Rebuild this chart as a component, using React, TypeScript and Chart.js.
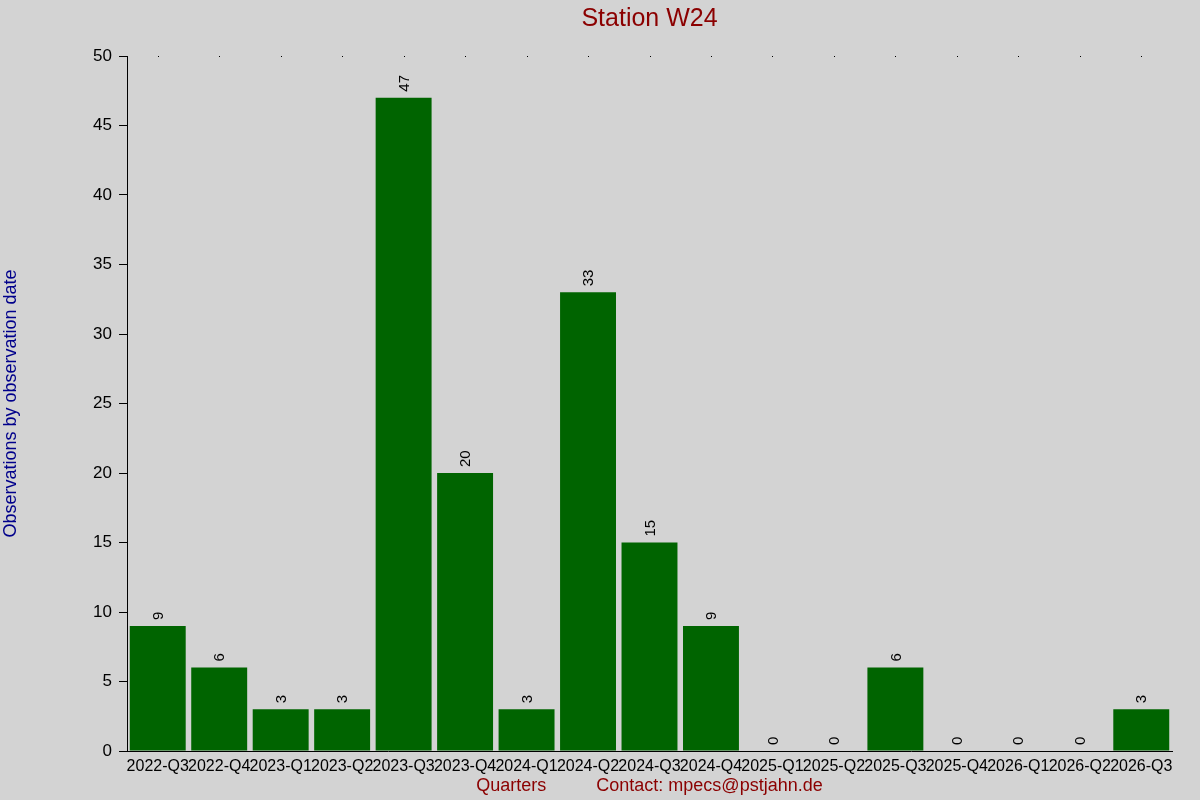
import React, { useEffect, useRef } from "react";
import { Chart, registerables } from "chart.js";

Chart.register(...registerables);

const categories = [
  "2022-Q3", "2022-Q4", "2023-Q1", "2023-Q2", "2023-Q3", "2023-Q4",
  "2024-Q1", "2024-Q2", "2024-Q3", "2024-Q4", "2025-Q1", "2025-Q2",
  "2025-Q3", "2025-Q4", "2026-Q1", "2026-Q2", "2026-Q3",
];
const observations = [9, 6, 3, 3, 47, 20, 3, 33, 15, 9, 0, 0, 6, 0, 0, 0, 3];
const titleText = "Station W24";
const yTitle = "Observations by observation date";
const xTitle = "Quarters          Contact: mpecs@pstjahn.de";
const FONT = "'Liberation Sans', Arial, sans-serif";

const bgPlugin = {
  id: "bg",
  beforeDraw(chart: any) {
    const { ctx, width, height } = chart;
    ctx.save();
    ctx.fillStyle = "#d3d3d3";
    ctx.fillRect(0, 0, width, height);
    ctx.restore();
  },
};

const extrasPlugin = {
  id: "extras",
  afterDraw(chart: any) {
    const { ctx, chartArea } = chart;
    const xs = chart.scales.x;
    ctx.save();
    // title centered on plot area
    ctx.fillStyle = "#8b0000";
    ctx.font = `25px ${FONT}`;
    ctx.textAlign = "center";
    ctx.textBaseline = "middle";
    ctx.fillText(titleText, (chartArea.left + chartArea.right) / 2, 19);
    // dots at top of category centres
    ctx.fillStyle = "#000";
    categories.forEach((_, i) => {
      const x = Math.round(xs.getPixelForValue(i));
      ctx.fillRect(x, Math.round(chartArea.top), 1, 1);
    });
    // value labels
    const meta = chart.getDatasetMeta(0);
    ctx.font = `15px ${FONT}`;
    ctx.textAlign = "left";
    ctx.textBaseline = "middle";
    ctx.fillStyle = "#000";
    meta.data.forEach((bar: any, i: number) => {
      ctx.save();
      ctx.translate(bar.x, bar.y - 6);
      ctx.rotate(-Math.PI / 2);
      ctx.fillText(String(observations[i]), 0, 1);
      ctx.restore();
    });
    ctx.restore();
  },
};

export default function App() {
  const ref = useRef<HTMLCanvasElement>(null);
  useEffect(() => {
    document.body.style.margin = "0";
    const chart = new Chart(ref.current!, {
      type: "bar",
      data: {
        labels: categories,
        datasets: [
          {
            data: observations,
            backgroundColor: "#006400",
            borderWidth: 0,
            barPercentage: 0.91,
            categoryPercentage: 1,
          },
        ],
      },
      plugins: [bgPlugin, extrasPlugin],
      options: {
        animation: false,
        responsive: false,
        devicePixelRatio: 1,
        layout: { padding: { top: 56, right: 28, left: 0, bottom: 0 } },
        plugins: {
          legend: { display: false },
          tooltip: { enabled: false },
          title: { display: false },
        },
        scales: {
          x: {
            afterFit: (s: any) => {
              s.height = 49;
            },
            grid: { display: false, drawTicks: false, tickLength: 0 },
            border: { display: true, color: "#000", width: 1 },
            ticks: {
              autoSkip: false,
              maxRotation: 0,
              minRotation: 0,
              padding: 6,
              color: "#000",
              font: { family: FONT, size: 16 },
            },
            title: {
              display: true,
              text: xTitle,
              color: "#8b0000",
              font: { family: FONT, size: 18 },
              padding: { top: 0, bottom: 3 },
            },
          },
          y: {
            min: 0,
            max: 50,
            afterFit: (s: any) => {
              s.width = 127;
            },
            grid: {
              drawOnChartArea: false,
              drawTicks: true,
              tickLength: 8,
              tickColor: "#000",
              color: "#000",
            },
            border: { display: true, color: "#000", width: 1 },
            ticks: {
              stepSize: 5,
              padding: 7,
              color: "#000",
              font: { family: FONT, size: 17 },
            },
            title: {
              display: true,
              text: yTitle,
              color: "#00008b",
              font: { family: FONT, size: 18 },
              padding: { top: 0, bottom: 0 },
            },
          },
        },
      },
    });
    return () => chart.destroy();
  }, []);
  return (
    <div style={{ position: "fixed", left: 0, top: 0, width: 1200, height: 800 }}>
      <canvas ref={ref} width={1200} height={800} style={{ width: 1200, height: 800 }} />
    </div>
  );
}
